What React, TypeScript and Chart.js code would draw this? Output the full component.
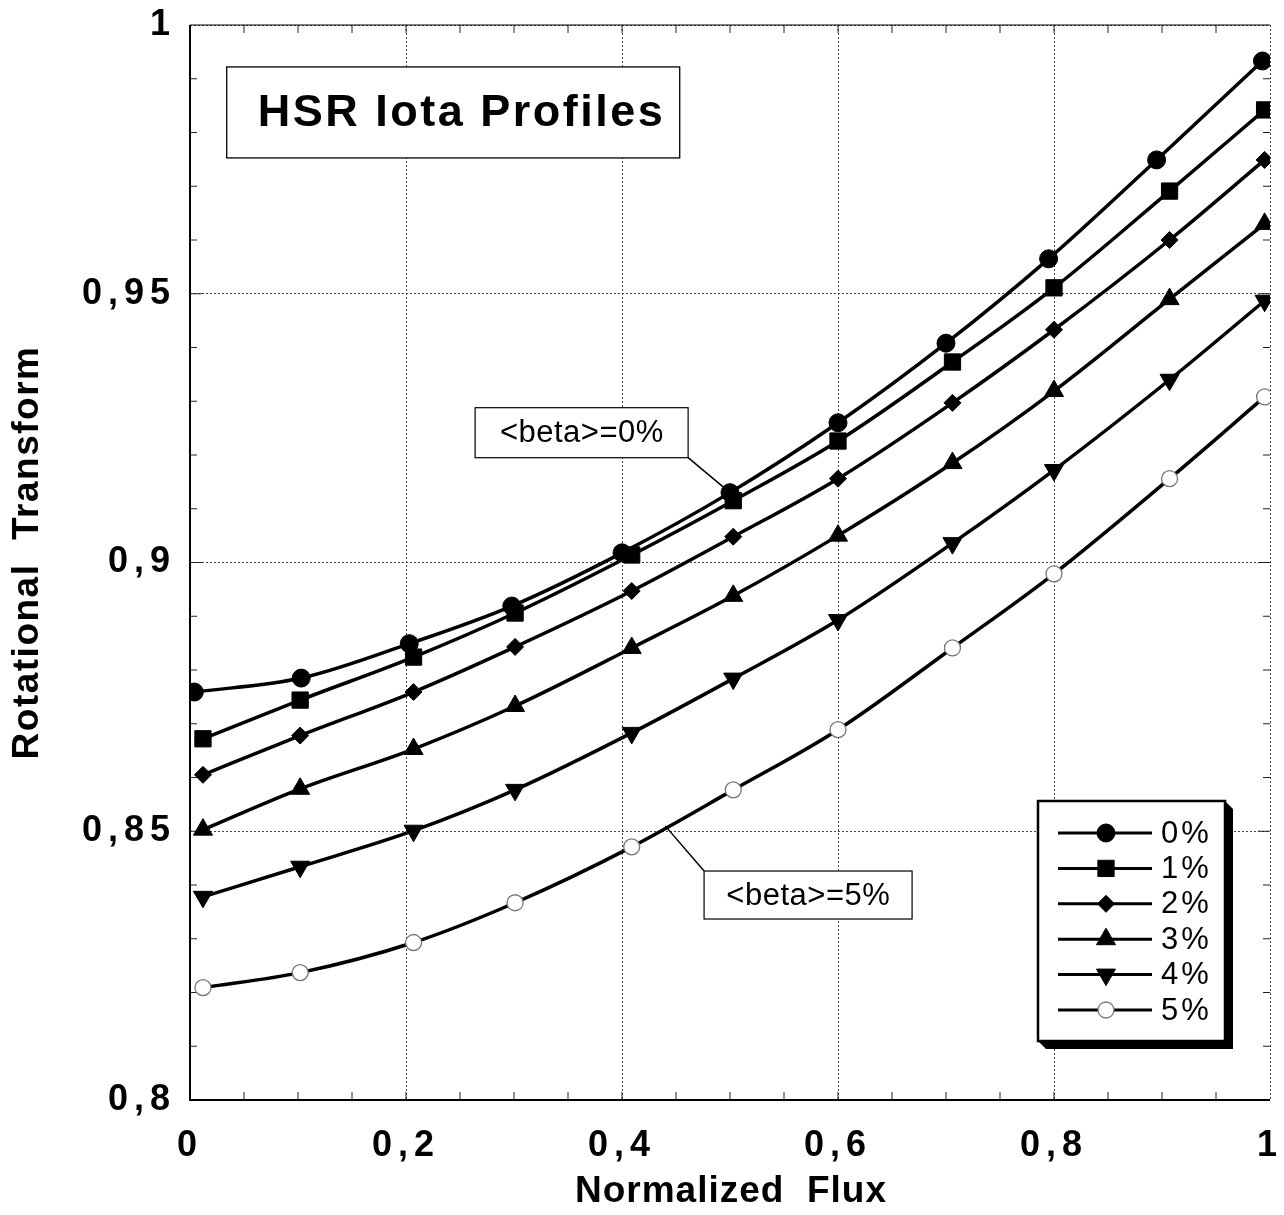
import React, { useEffect, useRef } from "react";
import { Chart, registerables } from "chart.js";

Chart.register(...registerables);

const FONT = '"Liberation Sans", Arial, Helvetica, sans-serif';

// Normalized flux positions of the computed surfaces
const fluxA = [0.004, 0.103, 0.203, 0.298, 0.4, 0.5, 0.6, 0.7, 0.795, 0.895, 0.993];
const fluxB = [0.012, 0.102, 0.207, 0.301, 0.409, 0.503, 0.6, 0.706, 0.8, 0.907, 0.995];

const betaLabels = ["0%", "1%", "2%", "3%", "4%", "5%"];

// Rotational transform for each <beta>
const iota0 = [0.8759, 0.8785, 0.8849, 0.8919, 0.9018, 0.913, 0.926, 0.9408, 0.9565, 0.9749, 0.9933];
const iota1 = [0.8672, 0.8744, 0.8824, 0.8906, 0.9014, 0.9115, 0.9226, 0.9373, 0.9511, 0.9691, 0.9842];
const iota2 = [0.8605, 0.8678, 0.8759, 0.8843, 0.8947, 0.9048, 0.9156, 0.9297, 0.9433, 0.96, 0.9749];
const iota3 = [0.8503, 0.8579, 0.8653, 0.8733, 0.8841, 0.8938, 0.905, 0.9185, 0.9319, 0.949, 0.963];
const iota4 = [0.8378, 0.8434, 0.8501, 0.8577, 0.8683, 0.8784, 0.8893, 0.9036, 0.9172, 0.934, 0.9487];
const iota5 = [0.8209, 0.8237, 0.8293, 0.8367, 0.8471, 0.8577, 0.8689, 0.8841, 0.8979, 0.9156, 0.9308];

const xTicks = [0, 0.2, 0.4, 0.6, 0.8, 1];
const yTicks = [0.8, 0.85, 0.9, 0.95, 1];
const minorXStep = 0.05;
const minorYStep = 0.01;

const chartTitle = "HSR Iota Profiles";
const xTitle = "Normalized  Flux";
const yTitle = "Rotational  Transform";
const note0 = "<beta>=0%";
const note5 = "<beta>=5%";

const fmt = (v: number) => String(+v.toFixed(2)).replace(".", ",");

type Marker = {
  style: string;
  radius: number;
  rotation: number;
  fill: string;
  stroke: string;
  strokeWidth: number;
};

const markers: Marker[] = [
  { style: "circle", radius: 9, rotation: 0, fill: "#000", stroke: "#000", strokeWidth: 1 },
  { style: "rect", radius: 11.5, rotation: 0, fill: "#000", stroke: "#000", strokeWidth: 1 },
  { style: "rectRot", radius: 8.5, rotation: 0, fill: "#000", stroke: "#000", strokeWidth: 1 },
  { style: "triangle", radius: 11, rotation: 0, fill: "#000", stroke: "#000", strokeWidth: 1 },
  { style: "triangle", radius: 11, rotation: 180, fill: "#000", stroke: "#000", strokeWidth: 1 },
  { style: "circle", radius: 8, rotation: 0, fill: "#fff", stroke: "#777", strokeWidth: 1.3 },
];

function drawMarker(ctx: CanvasRenderingContext2D, m: Marker, x: number, y: number) {
  const r = m.radius;
  ctx.save();
  ctx.fillStyle = m.fill;
  ctx.strokeStyle = m.stroke;
  ctx.lineWidth = m.strokeWidth;
  ctx.beginPath();
  if (m.style === "circle") {
    ctx.arc(x, y, r, 0, Math.PI * 2);
  } else if (m.style === "rect") {
    const s = Math.SQRT1_2 * r;
    ctx.rect(x - s, y - s, 2 * s, 2 * s);
  } else if (m.style === "rectRot") {
    ctx.moveTo(x, y - r);
    ctx.lineTo(x + r, y);
    ctx.lineTo(x, y + r);
    ctx.lineTo(x - r, y);
    ctx.closePath();
  } else {
    const rad = (m.rotation * Math.PI) / 180;
    for (let k = 0; k < 3; k++) {
      const a = rad + (k * 2 * Math.PI) / 3;
      const px = x + Math.sin(a) * r;
      const py = y - Math.cos(a) * r;
      if (k === 0) ctx.moveTo(px, py);
      else ctx.lineTo(px, py);
    }
    ctx.closePath();
  }
  ctx.fill();
  ctx.stroke();
  ctx.restore();
}

function boxedText(
  ctx: CanvasRenderingContext2D,
  x: number,
  y: number,
  w: number,
  h: number,
  text: string,
  font: string,
  spacing: number,
  lw: number,
  dx = 0
) {
  ctx.save();
  ctx.fillStyle = "#fff";
  ctx.fillRect(x, y, w, h);
  ctx.strokeStyle = "#000";
  ctx.lineWidth = lw;
  ctx.strokeRect(x, y, w, h);
  ctx.font = font;
  (ctx as any).letterSpacing = spacing + "px";
  ctx.fillStyle = "#000";
  ctx.textAlign = "center";
  ctx.textBaseline = "middle";
  ctx.fillText(text, x + w / 2 + spacing / 2 + dx, y + h / 2 + 1);
  ctx.restore();
}

const decor = {
  id: "decor",
  beforeDraw(chart: any) {
    // wide tracking for the axis tick numbers
    chart.ctx.letterSpacing = "6px";
  },
  beforeDatasetsDraw(chart: any) {
    const ctx: CanvasRenderingContext2D = chart.ctx;
    (ctx as any).letterSpacing = "0px";
    const { left, right, top, bottom } = chart.chartArea;
    const xs = chart.scales.x;
    const ys = chart.scales.y;
    ctx.save();
    ctx.strokeStyle = "#222";
    ctx.lineWidth = 1;
    ctx.beginPath();
    const nx = Math.round(1 / minorXStep);
    for (let i = 1; i < nx; i++) {
      const px = xs.getPixelForValue(i * minorXStep);
      ctx.moveTo(px, bottom);
      ctx.lineTo(px, bottom - 8);
      ctx.moveTo(px, top);
      ctx.lineTo(px, top + 8);
    }
    const ny = Math.round(0.2 / minorYStep);
    for (let i = 1; i < ny; i++) {
      const py = ys.getPixelForValue(0.8 + i * minorYStep);
      const len = i % 5 === 0 ? 12 : 7;
      ctx.moveTo(left, py);
      ctx.lineTo(left + len, py);
      ctx.moveTo(right, py);
      ctx.lineTo(right - len, py);
    }
    ctx.stroke();
    ctx.strokeStyle = "#000";
    ctx.lineWidth = 2;
    ctx.beginPath();
    ctx.moveTo(left, top);
    ctx.lineTo(left, bottom);
    ctx.lineTo(right, bottom);
    ctx.stroke();
    ctx.lineWidth = 1.2;
    ctx.beginPath();
    ctx.moveTo(left, top);
    ctx.lineTo(right, top);
    ctx.stroke();
    ctx.restore();
  },
  afterDraw(chart: any) {
    const ctx: CanvasRenderingContext2D = chart.ctx;
    const { top, bottom, right } = chart.chartArea;
    const xs = chart.scales.x;
    const ys = chart.scales.y;
    const X = (v: number) => xs.getPixelForValue(v);
    const Y = (v: number) => ys.getPixelForValue(v);

    // title box
    boxedText(ctx, X(0.034), Y(0.9922), 453, 91, chartTitle, `bold 45px ${FONT}`, 2.5, 1.3, 7);

    // leader lines for the two annotations
    ctx.save();
    ctx.strokeStyle = "#000";
    ctx.lineWidth = 1.5;
    const b0x = X(0.264), b0y = Y(0.9288), b0w = 213, b0h = 50;
    const b5x = X(0.476), b5y = Y(0.8426), b5w = 208, b5h = 48;
    ctx.beginPath();
    ctx.moveTo(b0x + b0w, b0y + b0h);
    ctx.lineTo(X(fluxA[5]), Y(iota0[5]));
    ctx.moveTo(b5x, b5y);
    ctx.lineTo(X(0.44), Y(0.851));
    ctx.stroke();
    ctx.restore();
    boxedText(ctx, b0x, b0y, b0w, b0h, note0, `31px ${FONT}`, 0.5, 1.2);
    boxedText(ctx, b5x, b5y, b5w, b5h, note5, `31px ${FONT}`, 0.5, 1.2);

    // legend with drop shadow
    const lx = right - 232, ly = top + 776, lw = 187, lh = 240, sh = 8;
    ctx.save();
    ctx.fillStyle = "#000";
    ctx.beginPath();
    ctx.moveTo(lx + lw, ly);
    ctx.lineTo(lx + lw + sh, ly + sh);
    ctx.lineTo(lx + lw + sh, ly + lh + sh);
    ctx.lineTo(lx + sh, ly + lh + sh);
    ctx.lineTo(lx, ly + lh);
    ctx.closePath();
    ctx.fill();
    ctx.fillStyle = "#fff";
    ctx.fillRect(lx, ly, lw, lh);
    ctx.strokeStyle = "#000";
    ctx.lineWidth = 2.5;
    ctx.strokeRect(lx, ly, lw, lh);
    betaLabels.forEach((lab, i) => {
      const ry = ly + 32 + i * 35.4;
      ctx.strokeStyle = "#000";
      ctx.lineWidth = 3;
      ctx.beginPath();
      ctx.moveTo(lx + 20, ry);
      ctx.lineTo(lx + 114, ry);
      ctx.stroke();
      drawMarker(ctx, markers[i], lx + 68, ry);
      ctx.font = `31px ${FONT}`;
      (ctx as any).letterSpacing = "3px";
      ctx.fillStyle = "#000";
      ctx.textAlign = "left";
      ctx.textBaseline = "middle";
      ctx.fillText(lab, lx + 123, ry + 1);
      (ctx as any).letterSpacing = "0px";
    });
    ctx.restore();

    // axis titles
    ctx.save();
    ctx.fillStyle = "#000";
    ctx.font = `bold 37px ${FONT}`;
    ctx.textAlign = "center";
    ctx.textBaseline = "middle";
    (ctx as any).letterSpacing = "1px";
    ctx.fillText(xTitle, 731, bottom + 92);
    ctx.translate(28, (top + bottom) / 2 - 10);
    ctx.rotate(-Math.PI / 2);
    (ctx as any).letterSpacing = "1.5px";
    ctx.fillText(yTitle, 0, 0);
    ctx.restore();
  },
};

export default function App() {
  const ref = useRef<HTMLCanvasElement | null>(null);

  useEffect(() => {
    if (!ref.current) return;
    const series = [iota0, iota1, iota2, iota3, iota4, iota5];
    const datasets = series.map((vals, i) => {
      const xsrc = i === 0 ? fluxA : fluxB;
      const m = markers[i];
      return {
        label: betaLabels[i],
        data: vals.map((v, k) => ({ x: xsrc[k], y: v })),
        borderColor: "#000",
        borderWidth: 3.5,
        cubicInterpolationMode: "monotone" as const,
        pointStyle: m.style as any,
        pointRadius: m.radius,
        pointRotation: m.rotation,
        pointBackgroundColor: m.fill,
        pointBorderColor: m.stroke,
        pointBorderWidth: m.strokeWidth,
        fill: false,
      };
    });

    const gridCommon = {
      color: "#444",
      lineWidth: 1,
      drawTicks: false,
      borderDash: [2, 2],
    };

    const chart = new Chart(ref.current, {
      type: "line",
      data: { datasets },
      plugins: [decor],
      options: {
        animation: false,
        responsive: true,
        maintainAspectRatio: false,
        devicePixelRatio: 1,
        layout: { padding: { top: 25, right: 14, left: 0, bottom: 0 } },
        plugins: {
          legend: { display: false },
          tooltip: { enabled: false },
          title: { display: false },
        },
        scales: {
          x: {
            type: "linear",
            min: 0,
            max: 1,
            afterBuildTicks: (s: any) => {
              s.ticks = xTicks.map((v) => ({ value: v }));
            },
            afterFit: (s: any) => {
              s.height = 115;
              s.paddingLeft = 0;
              s.paddingRight = 0;
            },
            grid: gridCommon as any,
            border: { display: false, dash: [2, 2] } as any,
            ticks: {
              padding: 24,
              maxRotation: 0,
              color: "#000",
              font: { family: FONT, size: 36, weight: "bold" },
              callback: (v: any) => fmt(Number(v)),
            },
          },
          y: {
            type: "linear",
            min: 0.8,
            max: 1,
            afterBuildTicks: (s: any) => {
              s.ticks = yTicks.map((v) => ({ value: v }));
            },
            afterFit: (s: any) => {
              s.width = 190;
              s.paddingTop = 0;
              s.paddingBottom = 0;
            },
            grid: gridCommon as any,
            border: { display: false, dash: [2, 2] } as any,
            ticks: {
              padding: 14,
              color: "#000",
              font: { family: FONT, size: 36, weight: "bold" },
              callback: (v: any) => fmt(Number(v)),
            },
          },
        },
      },
    });
    return () => chart.destroy();
  }, []);

  return (
    <div style={{ position: "absolute", left: 0, top: 0, width: 1284, height: 1215, background: "#fff" }}>
      <canvas ref={ref} />
    </div>
  );
}
